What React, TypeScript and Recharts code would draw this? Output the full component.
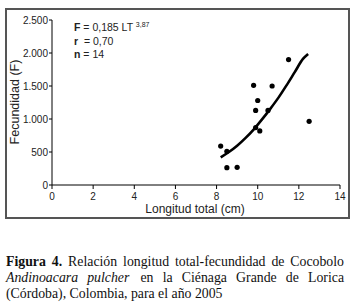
import React from 'react';
import { ComposedChart, Scatter, Line, XAxis, YAxis } from 'recharts';

// observed fish: total length (cm) and fecundity
const lengthCm = [11.5, 9.8, 10.7, 10.0, 9.9, 10.5, 9.9, 10.1, 12.5, 8.2, 8.5, 8.5, 9.0];
const fecundity = [1900, 1510, 1500, 1280, 1130, 1130, 870, 820, 965, 590, 510, 262, 268];

// fitted curve as drawn in the figure
const fitLength = [8.2, 8.6, 9.0, 9.4, 9.8, 10.2, 10.6, 11.0, 11.4, 11.8, 12.2, 12.45];
const fitFecundity = [420, 500, 595, 710, 840, 990, 1150, 1320, 1510, 1710, 1910, 1985];

const xTicks = [0, 2, 4, 6, 8, 10, 12, 14];
const yTicks = [0, 500, 1000, 1500, 2000, 2500];

const points = lengthCm.map((x, i) => ({ x, y: fecundity[i] }));
const fit = fitLength.map((x, i) => ({ x, y: fitFecundity[i] }));

const sans = 'Arial, "Liberation Sans", sans-serif';

const fmtThousands = (v: number) =>
  v >= 1000 ? `${Math.floor(v / 1000)}.${String(v % 1000).padStart(3, '0')}` : String(v);

const Dot = (props: any) => <circle cx={props.cx} cy={props.cy} r={2.6} fill="#000" />;

export default function App() {
  return (
    <div style={{ position: 'absolute', left: 0, top: 0, width: 359, height: 305, background: '#fff' }}>
      <div
        style={{
          position: 'absolute',
          left: 5,
          top: 8,
          width: 345,
          height: 211,
          border: '2px solid #555',
          boxSizing: 'border-box',
        }}
      />
      <div style={{ position: 'absolute', left: 0, top: 0 }}>
        <ComposedChart width={359} height={305} margin={{ top: 20, right: 19, bottom: 90, left: 0 }}>
          <XAxis
            dataKey="x"
            type="number"
            domain={[0, 14]}
            ticks={xTicks}
            interval={0}
            stroke="#000"
            tickSize={4}
            tickMargin={4}
            height={30}
            tick={{ fill: '#222', fontSize: 10, fontFamily: sans }}
            allowDuplicatedCategory={false}
          />
          <YAxis
            type="number"
            domain={[0, 2500]}
            ticks={yTicks}
            interval={0}
            width={52}
            stroke="#000"
            tickSize={3}
            tickMargin={1}
            tickFormatter={fmtThousands}
            tick={{ fill: '#222', fontSize: 10, fontFamily: sans }}
          />
          <Scatter data={points} dataKey="y" shape={Dot} isAnimationActive={false} />
          <Line
            data={fit}
            dataKey="y"
            type="monotone"
            stroke="#000"
            strokeWidth={2.6}
            dot={false}
            activeDot={false}
            isAnimationActive={false}
          />
        </ComposedChart>
      </div>
      <div
        style={{
          position: 'absolute',
          left: 15,
          top: 102,
          transform: 'translate(-50%, -50%) rotate(-90deg)',
          whiteSpace: 'nowrap',
          fontFamily: sans,
          fontSize: 12.5,
          color: '#222',
        }}
      >
        Fecundidad (F)
      </div>
      <div
        style={{
          position: 'absolute',
          left: 195,
          top: 209,
          transform: 'translate(-50%, -50%)',
          whiteSpace: 'nowrap',
          fontFamily: sans,
          fontSize: 12,
          lineHeight: '14px',
          color: '#222',
        }}
      >
        Longitud total (cm)
      </div>
      <div
        style={{
          position: 'absolute',
          left: 74,
          top: 18,
          fontFamily: sans,
          fontSize: 10.5,
          lineHeight: '13.5px',
          color: '#222',
          whiteSpace: 'nowrap',
        }}
      >
        <div>
          <b>F</b> = 0,185 LT <sup style={{ fontSize: 7, verticalAlign: 4 }}>3,87</sup>
        </div>
        <div>
          <b>r</b> &nbsp;= 0,70
        </div>
        <div>
          <b>n</b> = 14
        </div>
      </div>
      <div
        style={{
          position: 'absolute',
          left: 6,
          top: 254,
          width: 338,
          fontFamily: '"Liberation Serif", "Times New Roman", serif',
          fontSize: 13.8,
          lineHeight: '16px',
          color: '#111',
          textAlign: 'justify',
        }}
      >
        <b>Figura 4.</b> Relación longitud total-fecundidad de Cocobolo{' '}
        <i style={{ paddingRight: 2 }}>Andinoacara pulcher</i> en la Ciénaga Grande de Lorica (Córdoba), Colombia,
        para el año 2005
      </div>
    </div>
  );
}
